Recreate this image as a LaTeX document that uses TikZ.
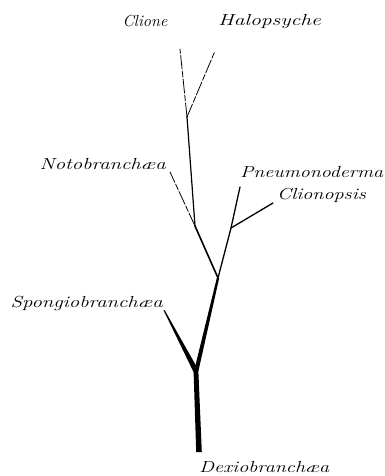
\documentclass[tikz,border=0pt]{standalone}
\usepackage{graphicx}
\usetikzlibrary{calc}
\newcommand\widelbl[2][1.26]{\scalebox{#1}[1]{#2}}
\begin{document}
\begin{tikzpicture}[x=1pt,y=-1pt,
  lab/.style={font=\fontsize{16}{18}\selectfont\itshape, inner sep=0pt},
  thin branch/.style={line width=0.8pt, dash pattern=on 14pt off 2pt on 6pt off 2pt},
  mid branch/.style={line width=1.3pt},
  line cap=round, line join=round]
\useasboundingbox (0,0) rectangle (385,476);
% labels
\node[lab] (clione) at (145,21) {\widelbl[1.02]{Clione}};
\node[lab, anchor=west] (halo) at (218,22) {\widelbl[1.35]{Halopsyche}};
\node[lab, anchor=east] (noto) at (166,164) {\widelbl[1.30]{Notobranch\ae a}};
\node[lab, anchor=west] (pneu) at (240,172) {\widelbl[1.25]{Pneumonoderma}};
\node[lab, anchor=west] (cliono) at (277,195) {\widelbl{Clionopsis}};
\node[lab, anchor=east] (spongio) at (163,303) {\widelbl[1.30]{Spongiobranch\ae a}};
\node[lab, anchor=west] (dexio) at (199,467) {\widelbl{Dexiobranch\ae a}};
% branch points
\coordinate (root) at (199,452);
\coordinate (f1) at (196,372);
\coordinate (sp) at (164,310);
\coordinate (f2) at (218,278);
\coordinate (f3) at (195,226);
\coordinate (f4) at (231,228);
\coordinate (pn) at (240,187);
\coordinate (cl) at (273,203);
\coordinate (no) at (170,172);
\coordinate (f5) at (187,117);
\coordinate (c1) at (180,49);
\coordinate (h1) at (215,51);
% trunk and thick branches (tapered)
\fill ($(root)+(-2.8,0)$) -- ($(f1)+(-2.4,0)$) -- ($(f1)+(2.4,0)$) -- ($(root)+(2.8,0)$) -- cycle;
\fill ($(f1)+(-2.2,0)$) -- ($(f2)+(-1.2,0)$) -- ($(f2)+(1.2,0)$) -- ($(f1)+(2.2,0)$) -- cycle;
\fill ($(f1)+(-1.5,2)$) -- ($(sp)+(-0.6,0)$) -- ($(sp)+(0.6,0)$) -- ($(f1)+(2.5,-2)$) -- cycle;
\draw[line width=1.6pt] (f2) -- (f3);
\draw[mid branch] (f2) -- (f4) -- (pn);
\draw[mid branch] (f4) -- (cl);
\draw[line width=1.2pt] (f3) -- (f5);
\draw[thin branch] (f3) -- (no);
\draw[thin branch] (f5) -- (c1);
\draw[thin branch] (f5) -- (h1);
\end{tikzpicture}
\end{document}
